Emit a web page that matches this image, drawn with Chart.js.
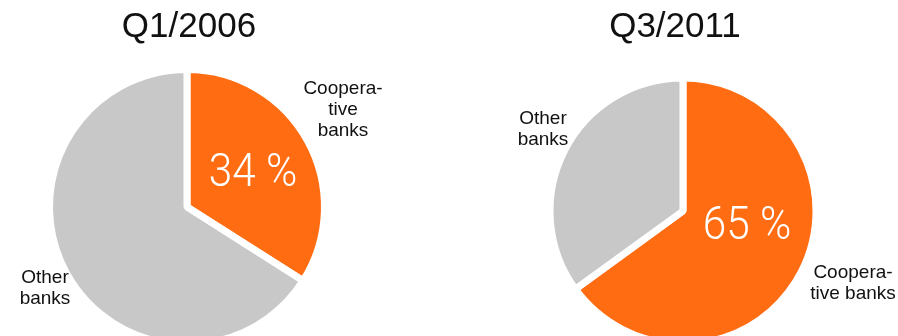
<!DOCTYPE html>
<html>
<head>
<meta charset="utf-8">
<title>Share of cooperative banks</title>
<script src="https://cdn.jsdelivr.net/npm/chart.js@4.4.1/dist/chart.umd.min.js"></script>
<style>
  html, body { margin: 0; padding: 0; background: #fff; }
  #wrap { position: relative; width: 898px; height: 336px; overflow: hidden; }
  .pie { position: absolute; top: 0; }
  #pieLeft { left: 0; }
  #pieRight { left: 449px; }
</style>
</head>
<body>
<div id="wrap">
  <div class="pie" id="pieLeft"><canvas id="chart2006" width="449" height="360"></canvas></div>
  <div class="pie" id="pieRight"><canvas id="chart2011" width="449" height="360"></canvas></div>
</div>
<script>
const categories = ['Cooperative banks', 'Other banks'];
const periods = ['Q1/2006', 'Q3/2011'];
const shares2006 = [34, 66];
const shares2011 = [65, 35];
// how each category name wraps next to its pie
const labelLines2006 = [['Coopera-', 'tive', 'banks'], ['Other', 'banks']];
const labelLines2011 = [['Coopera-', 'tive banks'], ['Other', 'banks']];

const ORANGE = '#ff6c12';
const GREY = '#c8c8c8';

// titles, the big percentage and the category names, placed around the pie centre
const pieText = {
    id: 'pieText',
    afterDraw(chart, args, opts) {
        const ctx = chart.ctx;
        const arc = chart.getDatasetMeta(0).data[0];
        const cx = arc.x, cy = arc.y;
        const values = chart.data.datasets[0].data;
        ctx.save();
        ctx.textAlign = 'center';
        ctx.textBaseline = 'alphabetic';

        ctx.fillStyle = '#111';
        ctx.font = '35px "Liberation Sans", sans-serif';
        ctx.fillText(opts.title, cx + opts.titleDx, 37);

        // light, slightly squeezed figure inside the orange slice
        ctx.save();
        ctx.translate(cx + opts.pct[0], cy + opts.pct[1]);
        ctx.scale(0.9, 1);
        ctx.fillStyle = '#fff';
        ctx.font = '300 47px Roboto, "Liberation Sans", sans-serif';
        ctx.fillText(values[0] + ' %', 0, 0);
        ctx.restore();

        ctx.fillStyle = '#111';
        ctx.font = '19px "Liberation Sans", sans-serif';
        opts.lines.forEach((lines, i) => {
            const [dx, dy] = opts.labelAt[i];
            lines.forEach((t, j) => ctx.fillText(t, cx + dx, cy + dy + j * 21));
        });
        ctx.restore();
    }
};

function makePie(canvasId, shares, center, radius, text) {
    const w = 449, h = 360;
    return new Chart(document.getElementById(canvasId), {
        type: 'pie',
        data: {
            labels: categories,
            datasets: [{
                data: shares,
                backgroundColor: [ORANGE, GREY],
                borderColor: '#fff',
                borderWidth: 7,
                hoverBorderWidth: 7,
                radius: radius
            }]
        },
        options: {
            responsive: false,
            animation: false,
            layout: {
                padding: {
                    left: center[0] - 100,
                    right: w - center[0] - 100,
                    top: center[1] - 100,
                    bottom: h - center[1] - 100
                }
            },
            plugins: {
                legend: { display: false },
                tooltip: { enabled: false },
                pieText: text
            }
        },
        plugins: [pieText]
    });
}

makePie('chart2006', shares2006, [187, 207], 137.5, {
    title: periods[0], titleDx: 2,
    pct: [66, -21],
    lines: labelLines2006,
    labelAt: [[156, -113], [-142, 76]]
});

makePie('chart2011', shares2011, [234, 211], 133, {
    title: periods[1], titleDx: -8,
    pct: [64, 28],
    lines: labelLines2011,
    labelAt: [[170, 67], [-140, -87]]
});
</script>
</body>
</html>
